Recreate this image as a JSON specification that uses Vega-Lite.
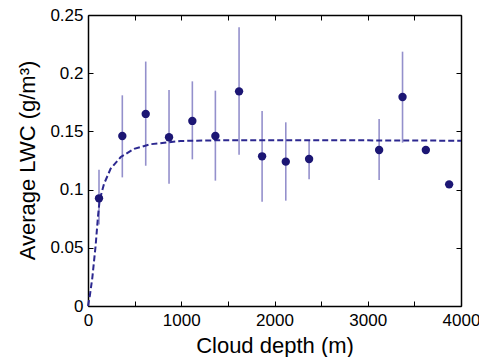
{
  "$schema": "https://vega.github.io/schema/vega-lite/v6.json",
  "width": 373,
  "height": 291,
  "autosize": "none",
  "padding": {"left": 88, "top": 15, "right": 18, "bottom": 51},
  "config": {
    "view": {"stroke": null},
    "font": "Liberation Sans",
    "axis": {
      "domainColor": "#000000",
      "domainWidth": 1.5,
      "tickColor": "#000000",
      "tickWidth": 1,
      "tickSize": -5,
      "grid": false,
      "labelColor": "#000000",
      "titleColor": "#000000",
      "labelFont": "Liberation Sans",
      "titleFont": "Liberation Sans",
      "labelFontSize": 17,
      "titleFontSize": 22,
      "titleFontWeight": "normal"
    }
  },
  "datasets": {
    "obs": [
      {"depth": 118, "lwc": 0.0925, "lo": 0.07, "hi": 0.117},
      {"depth": 368, "lwc": 0.146, "lo": 0.1105, "hi": 0.181},
      {"depth": 619, "lwc": 0.165, "lo": 0.1205, "hi": 0.21},
      {"depth": 869, "lwc": 0.145, "lo": 0.105, "hi": 0.1856},
      {"depth": 1119, "lwc": 0.159, "lo": 0.126, "hi": 0.193},
      {"depth": 1366, "lwc": 0.146, "lo": 0.1077, "hi": 0.185},
      {"depth": 1620, "lwc": 0.1844, "lo": 0.13, "hi": 0.2394},
      {"depth": 1867, "lwc": 0.1286, "lo": 0.0896, "hi": 0.1675},
      {"depth": 2121, "lwc": 0.124, "lo": 0.0905, "hi": 0.1578},
      {"depth": 2371, "lwc": 0.1263, "lo": 0.1088, "hi": 0.1426},
      {"depth": 3122, "lwc": 0.134, "lo": 0.1082, "hi": 0.1607},
      {"depth": 3373, "lwc": 0.1796, "lo": 0.1403, "hi": 0.2185},
      {"depth": 3623, "lwc": 0.134, "lo": null, "hi": null},
      {"depth": 3873, "lwc": 0.1045, "lo": null, "hi": null}
    ],
    "fit": [
      {"depth": 0, "lwc": 0},
      {"depth": 20, "lwc": 0.009},
      {"depth": 46, "lwc": 0.024},
      {"depth": 82, "lwc": 0.052},
      {"depth": 107, "lwc": 0.077},
      {"depth": 125, "lwc": 0.091},
      {"depth": 172, "lwc": 0.105},
      {"depth": 243, "lwc": 0.118},
      {"depth": 351, "lwc": 0.128},
      {"depth": 494, "lwc": 0.135},
      {"depth": 672, "lwc": 0.139},
      {"depth": 994, "lwc": 0.1418},
      {"depth": 1500, "lwc": 0.1425},
      {"depth": 2000, "lwc": 0.1425},
      {"depth": 3000, "lwc": 0.1423},
      {"depth": 4000, "lwc": 0.142}
    ]
  },
  "resolve": {"axis": {"x": "independent", "y": "independent"}},
  "layer": [
    {
      "data": {"name": "obs"},
      "transform": [{"filter": "datum.hi != null"}],
      "mark": {"type": "rule", "color": "#9490cc", "strokeWidth": 1.6},
      "encoding": {
        "x": {"field": "depth", "type": "quantitative",
              "scale": {"domain": [0, 4000], "nice": false},
              "axis": {"orient": "top", "values": [0,500,1000,1500,2000,2500,3000,3500,4000], "labels": false, "title": null}},
        "y": {"field": "lo", "type": "quantitative",
              "scale": {"domain": [0, 0.25], "nice": false},
              "axis": {"orient": "right", "values": [0,0.05,0.1,0.15,0.2,0.25], "labels": false, "title": null}},
        "y2": {"field": "hi"}
      }
    },
    {
      "data": {"name": "fit"},
      "mark": {"type": "line", "color": "#2c2890", "strokeWidth": 2, "strokeDash": [6, 3]},
      "encoding": {
        "x": {"field": "depth", "type": "quantitative", "axis": null},
        "y": {"field": "lwc", "type": "quantitative", "axis": null}
      }
    },
    {
      "data": {"name": "obs"},
      "mark": {"type": "point", "filled": true, "opacity": 1, "color": "#1c1674", "size": 70},
      "encoding": {
        "x": {"field": "depth", "type": "quantitative",
              "axis": {"orient": "bottom", "values": [0,500,1000,1500,2000,2500,3000,3500,4000], "format": "d",
                       "labelExpr": "datum.value % 1000 == 0 ? datum.label : ''",
                       "labelPadding": 11, "labelFlush": false, "labelOverlap": false,
                       "title": "Cloud depth (m)", "titleY": 46, "titleBaseline": "alphabetic"}},
        "y": {"field": "lwc", "type": "quantitative",
              "axis": {"orient": "left", "values": [0,0.05,0.1,0.15,0.2,0.25], "format": "~g",
                       "labelPadding": 10, "labelFlush": false, "labelOverlap": false,
                       "title": "Average LWC (g/m³)", "titleX": -61, "titleY": 145, "titleAlign": "center", "titleBaseline": "middle", "titleAngle": -90}}
      }
    }
  ]
}
